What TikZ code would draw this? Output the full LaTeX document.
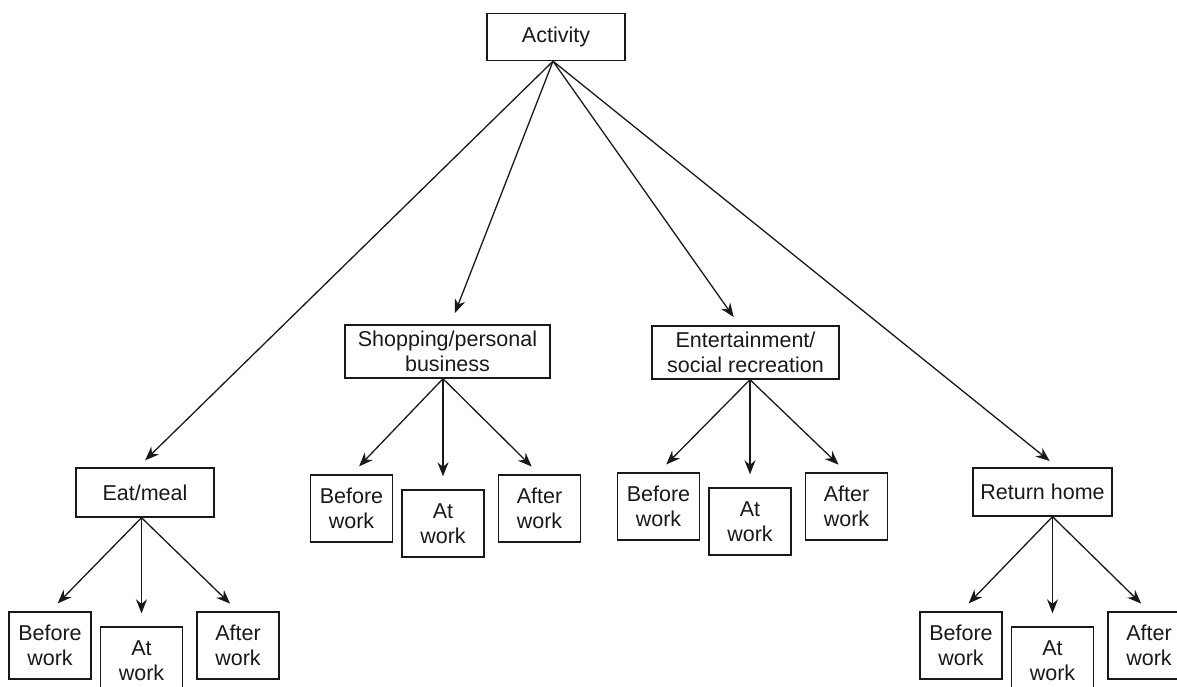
\documentclass[tikz,border=0pt]{standalone}
\usepackage{fontspec}
\setmainfont{Liberation Sans}
\usetikzlibrary{arrows.meta}
\tikzstyle{box}=[rectangle, draw=black!90, line width=1.4pt, inner sep=0pt, align=center, text=black!90, font=\fontsize{21.5}{25}\selectfont]
\tikzstyle{leaf}=[box, minimum width=82pt, minimum height=67pt]
\tikzstyle{link}=[draw=black!90, line width=1.3pt, -{Stealth[length=14pt,width=11pt]}, shorten >=11pt]
% three time boxes under one activity: #1 parent, #2 x of the middle box, #3 top of the side boxes
\newcommand{\drawleaves}[3]
{
  \node[leaf](#1before) at (#2-91.5, #3+33.5){Before\\work};
  \node[leaf](#1at) at (#2, #3+48.5){At\\work};
  \node[leaf](#1after) at (#2+96.5, #3+33.5){After\\work};
  \draw[link] (#1at.north |- #1.south) -- (#1before.north);
  \draw[link, shorten >=13pt] (#1at.north |- #1.south) -- (#1at.north);
  \draw[link] (#1at.north |- #1.south) -- (#1after.north);
}

\begin{document}
\begin{tikzpicture}[x=1pt, y=-1pt]
	\clip (0,0) rectangle (1177,687);

	\node[box, minimum width=138pt, minimum height=47pt](act) at (556, 37){Activity};
	\node[box, minimum width=138pt, minimum height=49pt](eat) at (145, 492.5){Eat/meal};
	\node[box, minimum width=205pt, minimum height=53pt](shop) at (447.5, 351.5){Shopping/personal\\business};
	\node[box, minimum width=187pt, minimum height=53pt](ent) at (745.5, 352.5){Entertainment/\\social recreation};
	\node[box, minimum width=139pt, minimum height=48pt](ret) at (1042.5, 492){Return home};

	\draw[link, shorten >=10pt] ([xshift=-3pt]act.south) -- ([xshift=-7pt]eat.north);
	\draw[link, shorten >=12pt] ([xshift=-3pt]act.south) -- ([xshift=3pt]shop.north);
	\draw[link, shorten >=10pt] ([xshift=-3pt]act.south) -- ([xshift=-6pt]ent.north);
	\draw[link, shorten >=10pt] ([xshift=-3pt]act.south) -- ([xshift=15pt]ret.north);

	\drawleaves{eat}{141.5}{612}
	\drawleaves{shop}{443}{475}
	\drawleaves{ent}{750}{473}
	\drawleaves{ret}{1052.5}{612}

\end{tikzpicture}
\end{document}
